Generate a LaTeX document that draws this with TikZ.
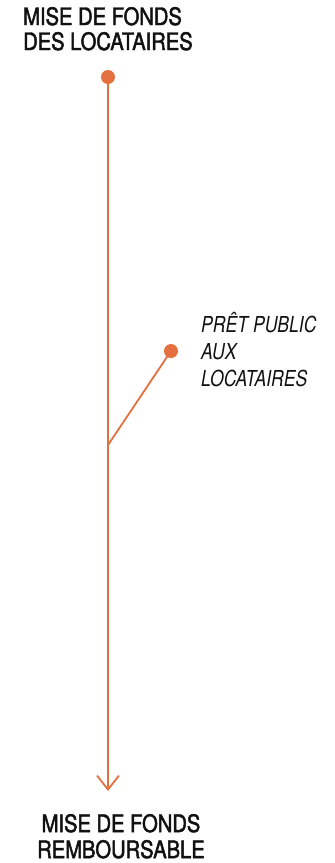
\documentclass[tikz,border=0pt]{standalone}
\usepackage{fontspec}
\setmainfont{TeX Gyre Heros}[FakeStretch=0.86]
\newfontfamily\titlefont{TeX Gyre Heros}[FakeStretch=0.84,FakeBold=2]
\newfontfamily\labelfont{TeX Gyre Heros}[FakeStretch=0.80]
\usetikzlibrary{arrows.meta}
\definecolor{flow}{HTML}{E4703F}
\definecolor{ink}{HTML}{111111}
\begin{document}
\begin{tikzpicture}[x=1pt,y=-1pt,
  title/.style={inner sep=0pt,anchor=base west,text=ink,font=\titlefont\fontsize{24}{25}\selectfont},
  btitle/.style={inner sep=0pt,anchor=base,text=ink,font=\titlefont\fontsize{24}{25}\selectfont},
  label/.style={inner sep=0pt,anchor=base west,text=ink,font=\labelfont\fontsize{22}{27}\selectfont\itshape},
  dot/.style={circle,fill=flow,inner sep=0pt,minimum size=14pt},
  flowline/.style={draw=flow,line width=1.8pt}]
\useasboundingbox (0,0) rectangle (335,863);
\node[title] (t1) at (23,25) {MISE DE FONDS};
\node[title] (t2) at (23,50) {DES LOCATAIRES};
\node[dot] (d1) at (108,77) {};
\coordinate (end) at (108,791);
\coordinate (join) at (108,445);
\node[dot] (d2) at (171,351) {};
\draw[flowline,-{Straight Barb[length=14pt,width=22pt,line width=1.8pt]}] (d1.center) -- (end);
\draw[flowline] (join) -- (d2.center);
\node[label] (l1) at (201,332) {PRÊT PUBLIC};
\node[label] (l2) at (201,359) {AUX};
\node[label] (l3) at (201,386) {LOCATAIRES};
\node[btitle] (b1) at (121,832) {MISE DE FONDS};
\node[btitle] (b2) at (121,858) {REMBOURSABLE};
\end{tikzpicture}
\end{document}
